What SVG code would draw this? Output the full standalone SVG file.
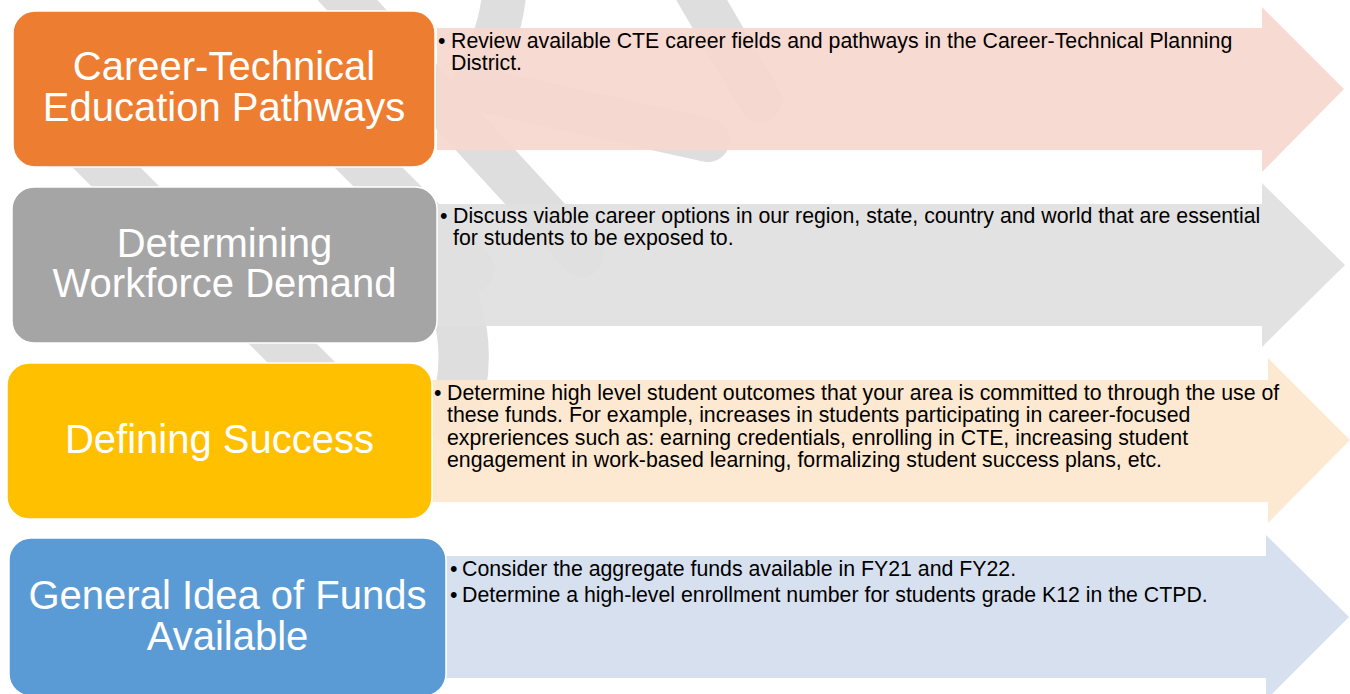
<svg xmlns="http://www.w3.org/2000/svg" width="1350" height="694" viewBox="0 0 1350 694">
<style>
.wm{fill:none;stroke:#DEDEDE;stroke-linecap:round}
.box{stroke:#FFFFFF;stroke-width:1.5}
.title{font-family:"Liberation Sans",Arial,sans-serif;font-size:40px;fill:#FFFFFF;text-anchor:middle}
.desc{font-family:"Liberation Sans",Arial,sans-serif;font-size:21.3px;fill:#000000}
</style>
<rect x="0" y="0" width="1350" height="694" fill="#FFFFFF"/>
<g id="watermark">
<path class="wm" stroke-width="44" d="M329,-20 L582,255"/>
<path class="wm" stroke-width="48" d="M270,69 L470,269"/>
<path class="wm" stroke-width="48" d="M70,131 L400,461"/>
<path class="wm" stroke-width="44" d="M505,-12 Q500,40 475,80"/>
<path class="wm" stroke-width="50" d="M425,245 Q485,330 452,420"/>
<path class="wm" stroke-width="44" d="M490,92 L708,140"/>
<path class="wm" stroke-width="44" d="M690,-20 L760,100"/>
</g>
<g id="connectors">
<path id="arrow1" fill="#F6D7CE" fill-opacity="0.93" d="M437,28 H1262 V7 L1344,89 L1262,172 V150 H437 Z"/>
<path id="arrow2" fill="#E0E0E0" fill-opacity="0.93" d="M437,204 H1262 V183 L1345,265 L1262,347 V326 H437 Z"/>
<path id="arrow3" fill="#FDE7CE" fill-opacity="0.93" d="M430,380 H1268 V358 L1350,440 L1268,523 V502 H430 Z"/>
<path id="arrow4" fill="#D3DEEE" fill-opacity="0.93" d="M440,556 H1266 V535 L1349,617 L1266,700 V678 H440 Z"/>
</g>
<g id="node1">
<rect class="box" x="13" y="11" width="422" height="156" rx="22" fill="#ED7D31"/>
<text class="title" x="224" y="80">Career-Technical</text>
<text class="title" x="224" y="121">Education Pathways</text>
<text class="desc" x="438" y="48">•</text>
<text class="desc" x="451" y="48">Review available CTE career fields and pathways in the Career-Technical Planning</text>
<text class="desc" x="451" y="70">District.</text>
</g>
<g id="node2">
<rect class="box" x="12" y="187" width="425" height="156" rx="22" fill="#A5A5A5"/>
<text class="title" x="224.5" y="257">Determining</text>
<text class="title" x="224.5" y="297">Workforce Demand</text>
<text class="desc" x="440" y="223">•</text>
<text class="desc" x="453" y="223">Discuss viable career options in our region, state, country and world that are essential</text>
<text class="desc" x="453" y="245">for students to be exposed to.</text>
</g>
<g id="node3">
<rect class="box" x="7" y="363" width="425" height="156" rx="22" fill="#FFC000"/>
<text class="title" x="219.5" y="453">Defining Success</text>
<text class="desc" x="434" y="400">•</text>
<text class="desc" x="447" y="400">Determine high level student outcomes that your area is committed to through the use of</text>
<text class="desc" x="447" y="422">these funds. For example, increases in students participating in career-focused</text>
<text class="desc" x="447" y="445">expreriences such as: earning credentials, enrolling in CTE, increasing student</text>
<text class="desc" x="447" y="467">engagement in work-based learning, formalizing student success plans, etc.</text>
</g>
<g id="node4">
<rect class="box" x="9" y="538" width="437" height="158" rx="22" fill="#5B9BD5"/>
<text class="title" x="227.5" y="609">General Idea of Funds</text>
<text class="title" x="227.5" y="650">Available</text>
<text class="desc" x="450" y="576">•</text>
<text class="desc" x="462" y="576">Consider the aggregate funds available in FY21 and FY22.</text>
<text class="desc" x="450" y="602">•</text>
<text class="desc" x="462" y="602">Determine a high-level enrollment number for students grade K12 in the CTPD.</text>
</g>
</svg>
